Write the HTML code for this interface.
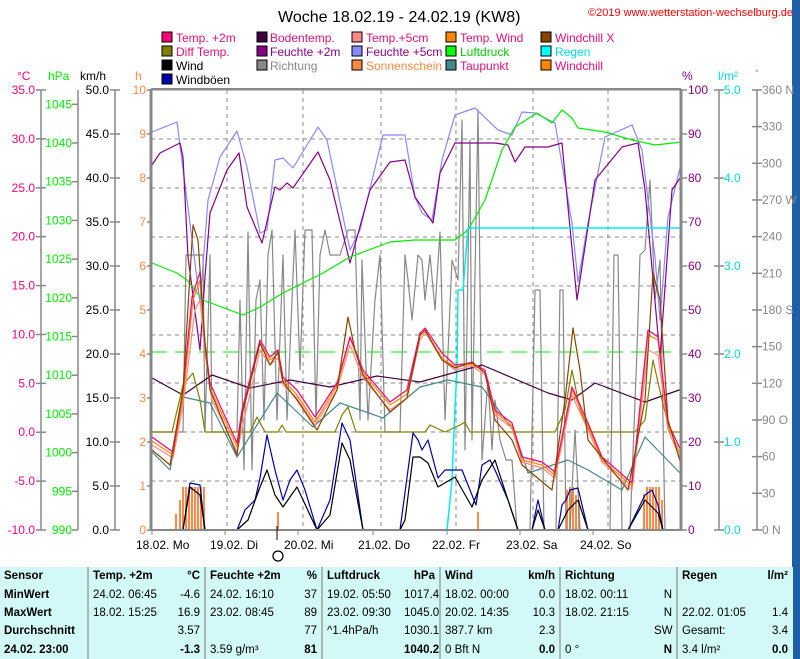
<!DOCTYPE html>
<html><head><meta charset="utf-8"><style>
body{margin:0;width:800px;height:659px;overflow:hidden;background:#fff;font-family:"Liberation Sans",sans-serif;}
svg{position:absolute;left:0;top:0}
table{position:absolute;left:0;top:567px;width:792px;height:92px;background:#d2f8f8;border-collapse:collapse;font-size:11.5px;table-layout:fixed}
td{padding:0 4px;height:16px;white-space:nowrap;overflow:hidden}
td.r{text-align:right;border-right:2px solid #a8b8b8}
td.s{border-right:2px solid #a8b8b8}
b{font-weight:bold}
</style></head><body>
<svg width="800" height="659" viewBox="0 0 800 659" font-family="Liberation Sans, sans-serif">
<rect x="792" y="0" width="8" height="659" fill="#1f5fa6"/>
<text x="278" y="22" font-size="16">Woche 18.02.19 - 24.02.19 (KW8)</text>
<text x="588" y="16" font-size="11" fill="#f00">©2019 www.wetterstation-wechselburg.de</text>
<g font-size="12">
<rect x="162" y="32" width="10" height="10" fill="#f07" stroke="#000"/><text x="176" y="42" fill="#e0107a">Temp. +2m</text>
<rect x="162" y="46" width="10" height="10" fill="#808000" stroke="#000"/><text x="176" y="56" fill="#e0107a">Diff Temp.</text>
<rect x="162" y="60" width="10" height="10" fill="#000" stroke="#000"/><text x="176" y="70">Wind</text>
<rect x="162" y="74" width="10" height="10" fill="#00a" stroke="#000"/><text x="176" y="84">Windböen</text>
<rect x="257" y="32" width="10" height="10" fill="#40003f" stroke="#000"/><text x="270" y="42" fill="#e0107a">Bodentemp.</text>
<rect x="257" y="46" width="10" height="10" fill="#808" stroke="#000"/><text x="270" y="56" fill="#808">Feuchte +2m</text>
<rect x="257" y="60" width="10" height="10" fill="#888" stroke="#000"/><text x="270" y="70" fill="#888">Richtung</text>
<rect x="352" y="32" width="10" height="10" fill="#f88" stroke="#000"/><text x="366" y="42" fill="#e0107a">Temp.+5cm</text>
<rect x="352" y="46" width="10" height="10" fill="#88f" stroke="#000"/><text x="366" y="56" fill="#808">Feuchte +5cm</text>
<rect x="352" y="60" width="10" height="10" fill="#f84" stroke="#000"/><text x="366" y="70" fill="#f84">Sonnenschein</text>
<rect x="446" y="32" width="10" height="10" fill="#f80" stroke="#000"/><text x="460" y="42" fill="#e0107a">Temp. Wind</text>
<rect x="446" y="46" width="10" height="10" fill="#0f0" stroke="#000"/><text x="460" y="56" fill="#0c0">Luftdruck</text>
<rect x="446" y="60" width="10" height="10" fill="#488" stroke="#000"/><text x="460" y="70" fill="#e0107a">Taupunkt</text>
<rect x="541" y="32" width="10" height="10" fill="#840" stroke="#000"/><text x="555" y="42" fill="#e0107a">Windchill X</text>
<rect x="541" y="46" width="10" height="10" fill="#0ff" stroke="#000"/><text x="555" y="56" fill="#0dd">Regen</text>
<rect x="541" y="60" width="10" height="10" fill="#f80" stroke="#000"/><text x="555" y="70" fill="#e0107a">Windchill</text>
</g>
<g font-size="12">
<text x="17" y="80" fill="#f07">°C</text><text x="48" y="80" fill="#0e0">hPa</text><text x="80" y="80">km/h</text><text x="135" y="80" fill="#f84">h</text>
<text x="682" y="80" fill="#808">%</text><text x="718" y="80" fill="#0dd">l/m²</text><text x="755" y="76" fill="#888" font-size="9">°</text>
</g>
<g stroke="#888" stroke-width="1.5" fill="none">
<line x1="41" y1="90" x2="41" y2="530"/><line x1="78" y1="90" x2="78" y2="530"/><line x1="115" y1="90" x2="115" y2="530"/>
<line x1="719" y1="90" x2="719" y2="530"/><line x1="757" y1="90" x2="757" y2="530"/>
</g>
<g id="ax" font-size="12" text-anchor="end"></g>
<g stroke="#888" stroke-dasharray="4,4" stroke-width="1">
<line x1="151" y1="139" x2="681" y2="139"/><line x1="151" y1="188" x2="681" y2="188"/><line x1="151" y1="237" x2="681" y2="237"/><line x1="151" y1="286" x2="681" y2="286"/><line x1="151" y1="335" x2="681" y2="335"/><line x1="151" y1="383" x2="681" y2="383"/><line x1="151" y1="432" x2="681" y2="432"/><line x1="151" y1="481" x2="681" y2="481"/>
<line x1="227" y1="90" x2="227" y2="530"/><line x1="303" y1="90" x2="303" y2="530"/><line x1="381" y1="90" x2="381" y2="530"/><line x1="456" y1="90" x2="456" y2="530"/><line x1="533" y1="90" x2="533" y2="530"/><line x1="608" y1="90" x2="608" y2="530"/>
</g>
<line x1="151" y1="352" x2="681" y2="352" stroke="#0e0" stroke-dasharray="16,8"/>
<g fill="#f84">
<rect x="175" y="514" width="2" height="16"/><rect x="179" y="500" width="2" height="30"/><rect x="182" y="487" width="2" height="43"/><rect x="185" y="487" width="2" height="43"/><rect x="188" y="487" width="2" height="43"/><rect x="191" y="487" width="2" height="43"/><rect x="194" y="487" width="2" height="43"/><rect x="197" y="487" width="2" height="43"/><rect x="200" y="487" width="2" height="43"/><rect x="203" y="487" width="2" height="43"/>
<rect x="277" y="512" width="2" height="18"/><rect x="477" y="512" width="2" height="18"/>
<rect x="566" y="490" width="2" height="40"/><rect x="569" y="487" width="2" height="43"/><rect x="572" y="487" width="2" height="43"/><rect x="575" y="495" width="2" height="35"/><rect x="578" y="500" width="2" height="30"/>
<rect x="643" y="494" width="2" height="36"/><rect x="646" y="487" width="2" height="43"/><rect x="649" y="487" width="2" height="43"/><rect x="652" y="487" width="2" height="43"/><rect x="655" y="487" width="2" height="43"/><rect x="658" y="487" width="2" height="43"/><rect x="661" y="500" width="2" height="30"/>
</g>
<g fill="none" stroke-width="1.2" stroke-linejoin="round">
<polyline stroke="#888" points="151,432 183,432 186,255 203,255 205,432 210,255 212,432 237,432 240,300 244,470 248,232 252,470 256,300 260,280 264,420 268,255 272,230 277,420 283,255 287,420 292,300 295,230 300,370 305,230 312,230 316,420 320,255 325,230 330,255 340,255 348,230 355,230 360,420 362,260 368,420 375,300 380,255 385,432 400,432 405,255 408,280 412,320 418,255 422,260 425,300 430,255 435,310 440,232 445,420 452,260 458,280 462,120 465,450 470,140 472,440 478,110 482,460 488,380 492,450 495,400 500,440 506,460 512,460 517,530 530,530 535,290 540,290 544,530 556,530 560,290 563,290 566,530 570,530 575,430 580,530 610,530 614,255 618,255 622,530 630,530 637,350 640,255 645,250 650,180 655,300 660,260 665,530 681,530"/>
<polyline stroke="#88f" points="152,132 177,122 187,200 200,303 208,200 220,157 237,131 247,167 260,233 267,230 275,160 283,158 293,168 318,127 327,140 350,250 360,230 383,135 405,135 415,197 422,213 432,220 442,160 455,115 475,108 498,130 512,135 522,112 535,113 555,123 572,223 578,282 588,223 605,137 632,125 642,150 655,257 660,320 668,217 682,160"/>
<polyline stroke="#808" points="152,165 160,153 180,143 183,157 188,257 200,350 205,277 210,213 227,170 239,153 247,207 262,243 275,187 280,190 287,183 293,188 318,152 330,180 350,263 370,190 390,162 405,160 415,197 433,223 440,173 455,143 495,143 508,145 515,162 525,147 548,147 562,143 568,207 577,300 595,180 622,147 638,143 645,190 660,357 672,190 682,175"/>
<polyline stroke="#0e0" points="152,263 177,273 187,280 203,300 243,315 260,307 283,293 323,273 350,257 390,242 415,240 455,240 468,230 485,200 502,150 515,127 537,113 552,123 562,110 572,118 578,128 605,132 632,140 655,145 682,142"/>
<polyline stroke="#0ee" stroke-width="1.5" points="447,530 452,480 455,407 457,370 458,290 463,290 467,240 468,228 682,228"/>
<polyline stroke="#40003f" points="152,378 183,395 212,375 250,388 290,380 330,387 377,376 420,382 482,365 548,393 572,400 595,383 645,402 682,389"/>
<polyline stroke="#488" points="152,452 170,470 183,397 210,403 237,457 277,393 313,427 340,403 383,418 420,387 448,380 482,387 515,433 528,473 568,460 588,470 622,490 645,437 682,475"/>
<polyline stroke="#808000" points="151,432 172,432 183,385 193,373 200,400 205,432 250,432 257,417 265,432 278,432 282,425 286,432 335,432 342,415 348,407 356,432 425,432 430,425 445,432 460,425 465,422 470,432 555,432 565,410 572,370 580,410 590,432 635,432 645,420 653,360 662,400 670,432 682,432"/>
<polyline stroke="#f88" points="152,445 173,458 183,405 195,310 200,300 206,360 212,400 237,452 244,420 260,350 270,365 278,358 283,385 297,398 315,425 337,390 350,345 363,378 390,410 407,398 420,340 425,332 442,360 455,370 472,366 485,375 495,415 512,428 522,462 542,468 555,478 572,395 588,430 602,462 632,490 648,350 658,355 668,430 682,462"/>
<polyline stroke="#f80" points="152,441 173,455 183,398 193,300 200,280 205,348 210,388 237,447 242,414 260,343 270,360 278,354 283,380 297,395 315,422 337,386 350,338 363,373 390,405 407,394 420,336 425,330 442,358 455,367 472,364 485,372 495,412 512,426 522,460 542,465 555,475 572,390 588,426 602,460 632,486 648,335 658,340 668,426 682,458"/>
<polyline stroke="#f07" points="152,437 173,452 183,390 192,297 200,272 205,343 210,383 237,443 242,410 260,340 270,357 278,350 283,377 297,390 315,417 337,383 350,337 363,370 390,402 407,390 420,333 425,328 442,353 455,365 472,363 485,370 495,410 512,423 522,457 542,462 555,472 572,387 588,423 602,457 632,483 648,330 658,337 668,423 682,453"/>
<polyline stroke="#840" points="152,450 170,465 183,390 193,225 198,240 205,343 210,390 237,455 242,415 260,343 270,365 278,352 283,382 297,400 317,430 337,390 348,317 355,350 363,375 390,412 407,398 420,335 425,330 442,360 455,368 472,362 485,373 495,420 512,440 522,465 552,490 565,400 573,328 580,370 588,440 628,490 645,400 653,273 660,300 668,420 682,468"/>
<polyline stroke="#00a" points="183,530 190,483 200,485 205,530 237,530 245,510 255,500 260,478 267,435 275,470 283,500 290,480 297,470 305,490 317,530 330,500 342,423 350,440 363,530 400,530 408,470 413,433 418,440 422,450 428,440 438,478 445,470 455,470 462,470 470,490 476,505 482,465 490,460 495,470 508,500 518,530 532,530 538,500 545,530 558,530 562,505 566,500 570,490 578,488 588,530 628,530 645,495 652,490 658,505 663,530"/>
<polyline stroke="#000" points="183,530 190,487 200,495 205,530 237,530 248,520 260,487 267,470 275,495 283,507 297,487 317,530 330,515 342,443 350,460 363,530 400,530 405,520 413,457 420,457 428,463 438,487 455,477 472,507 482,480 495,460 508,500 518,530 532,530 538,510 545,530 558,530 568,510 578,500 588,530 628,530 645,500 658,513 663,530"/>
</g>
<rect x="151" y="90" width="530" height="440" fill="none" stroke="#888" stroke-width="1"/>
<line x1="151" y1="89" x2="681" y2="89" stroke="#888" stroke-width="2"/>
<line x1="151" y1="89" x2="151" y2="531" stroke="#888" stroke-width="3"/>
<line x1="681" y1="89" x2="681" y2="531" stroke="#888" stroke-width="3"/>
<line x1="151" y1="530" x2="681" y2="530" stroke="#888" stroke-width="2"/>
<g stroke="#888"><line x1="152" y1="530" x2="152" y2="535"/><line x1="225" y1="530" x2="225" y2="535"/><line x1="298" y1="530" x2="298" y2="535"/><line x1="373" y1="530" x2="373" y2="535"/><line x1="447" y1="530" x2="447" y2="535"/><line x1="520" y1="530" x2="520" y2="535"/><line x1="593" y1="530" x2="593" y2="535"/></g>
<line x1="277" y1="526" x2="277" y2="540" stroke="#000"/>
<circle cx="278" cy="556" r="5" fill="none" stroke="#000" stroke-width="1.3"/>
<g font-size="12"><text x="136" y="549">18.02.  Mo</text><text x="210" y="549">19.02.  Di</text><text x="284" y="549">20.02.  Mi</text><text x="358" y="549">21.02.  Do</text><text x="432" y="549">22.02.  Fr</text><text x="506" y="549">23.02.  Sa</text><text x="580" y="549">24.02.  So</text></g>
</svg>
<script>
(function(){
var g=document.getElementById('ax'),s='',i,y;
function t(x,y,txt,c,a){s+='<text x="'+x+'" y="'+(y+4)+'" fill="'+c+'" text-anchor="'+(a||'end')+'">'+txt+'</text>';}
function k(x1,x2,y){s+='<line x1="'+x1+'" x2="'+x2+'" y1="'+y+'" y2="'+y+'" stroke="#888" stroke-width="1.5"/>';}
for(i=0;i<10;i++){y=90+i*48.89;t(35,y,(35-5*i).toFixed(1),'#f07');k(36,46,y);}
for(i=0;i<12;i++){y=530-i*38.7;t(72,y,990+5*i,'#0e0');k(72,78,y);}
for(i=0;i<11;i++){y=530-i*44;t(109,y,(5*i).toFixed(1),'#000');k(110,120,y);}
for(i=0;i<11;i++){y=530-i*44;t(146,y,i,'#f84');k(147,151,y);}
for(i=0;i<11;i++){y=530-i*44;t(688,y,10*i,'#808','start');k(681,687,y);}
for(i=0;i<6;i++){y=530-i*88;t(724,y,i.toFixed(1),'#0dd','start');k(714,724,y);}
var d={0:' N',90:'  O',180:' S',270:' W',360:' N'};
for(i=0;i<13;i++){y=530-i*36.67;t(762,y,(30*i)+(d[30*i]||''),'#888','start');k(752,762,y);}
g.innerHTML=s;})();
</script>
<table>
<colgroup><col style="width:88px"><col style="width:78px"><col style="width:39px"><col style="width:85px"><col style="width:32px"><col style="width:78px"><col style="width:40px"><col style="width:80px"><col style="width:40px"><col style="width:90px"><col style="width:27px"><col style="width:80px"><col style="width:35px"></colgroup>
<tr><td class="s"><b>Sensor</b></td><td><b>Temp. +2m</b></td><td class="r"><b>°C</b></td><td><b>Feuchte +2m</b></td><td class="r"><b>%</b></td><td><b>Luftdruck</b></td><td class="r"><b>hPa</b></td><td><b>Wind</b></td><td class="r"><b>km/h</b></td><td><b>Richtung</b></td><td class="r"></td><td><b>Regen</b></td><td style="text-align:right"><b>l/m²</b></td></tr>
<tr><td class="s"><b>MinWert</b></td><td>24.02. 06:45</td><td class="r">-4.6</td><td>24.02. 16:10</td><td class="r">37</td><td>19.02. 05:50</td><td class="r">1017.4</td><td>18.02. 00:00</td><td class="r">0.0</td><td>18.02. 00:11</td><td class="r">N</td><td></td><td></td></tr>
<tr><td class="s"><b>MaxWert</b></td><td>18.02. 15:25</td><td class="r">16.9</td><td>23.02. 08:45</td><td class="r">89</td><td>23.02. 09:30</td><td class="r">1045.0</td><td>20.02. 14:35</td><td class="r">10.3</td><td>18.02. 21:15</td><td class="r">N</td><td>22.02. 01:05</td><td style="text-align:right">1.4</td></tr>
<tr><td class="s"><b>Durchschnitt</b></td><td></td><td class="r">3.57</td><td></td><td class="r">77</td><td>^1.4hPa/h</td><td class="r">1030.1</td><td>387.7 km</td><td class="r">2.3</td><td></td><td class="r">SW</td><td>Gesamt:</td><td style="text-align:right">3.4</td></tr>
<tr><td class="s"><b>24.02. 23:00</b></td><td></td><td class="r"><b>-1.3</b></td><td>3.59 g/m³</td><td class="r"><b>81</b></td><td></td><td class="r"><b>1040.2</b></td><td>0 Bft N</td><td class="r"><b>0.0</b></td><td>0 °</td><td class="r"><b>N</b></td><td>3.4 l/m²</td><td style="text-align:right"><b>0.0</b></td></tr>
</table>
</body></html>
